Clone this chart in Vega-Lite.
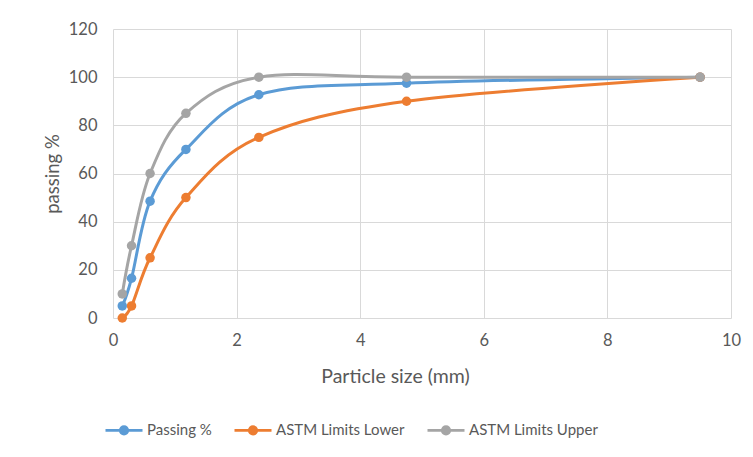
{
  "$schema": "https://vega.github.io/schema/vega-lite/v6.json",
  "width": 618,
  "height": 289,
  "autosize": {"type": "none"},
  "padding": {"left": 113, "top": 29, "right": 22, "bottom": 139},
  "background": "#ffffff",
  "config": {
    "view": {"stroke": null},
    "font": "Lato",
    "axis": {
      "gridColor": "#d9d9d9",
      "gridWidth": 1,
      "domain": false,
      "ticks": false,
      "labelFlush": false,
      "labelColor": "#595959",
      "labelFont": "Lato",
      "labelFontSize": 16.5,
      "labelFontWeight": "normal",
      "titleColor": "#595959",
      "titleFont": "Lato",
      "titleFontSize": 18.5,
      "titleFontWeight": "normal"
    }
  },
  "data": {
    "values": [
      {"size": 0.15, "pct": 5, "series": "Passing %"},
      {"size": 0.3, "pct": 16.5, "series": "Passing %"},
      {"size": 0.6, "pct": 48.5, "series": "Passing %"},
      {"size": 1.18, "pct": 70, "series": "Passing %"},
      {"size": 2.36, "pct": 92.7, "series": "Passing %"},
      {"size": 4.75, "pct": 97.5, "series": "Passing %"},
      {"size": 9.5, "pct": 100, "series": "Passing %"},
      {"size": 0.15, "pct": 0, "series": "ASTM Limits Lower"},
      {"size": 0.3, "pct": 5, "series": "ASTM Limits Lower"},
      {"size": 0.6, "pct": 25, "series": "ASTM Limits Lower"},
      {"size": 1.18, "pct": 50, "series": "ASTM Limits Lower"},
      {"size": 2.36, "pct": 75, "series": "ASTM Limits Lower"},
      {"size": 4.75, "pct": 90, "series": "ASTM Limits Lower"},
      {"size": 9.5, "pct": 100, "series": "ASTM Limits Lower"},
      {"size": 0.15, "pct": 10, "series": "ASTM Limits Upper"},
      {"size": 0.3, "pct": 30, "series": "ASTM Limits Upper"},
      {"size": 0.6, "pct": 60, "series": "ASTM Limits Upper"},
      {"size": 1.18, "pct": 85, "series": "ASTM Limits Upper"},
      {"size": 2.36, "pct": 100, "series": "ASTM Limits Upper"},
      {"size": 4.75, "pct": 100, "series": "ASTM Limits Upper"},
      {"size": 9.5, "pct": 100, "series": "ASTM Limits Upper"}
    ]
  },
  "encoding": {
    "x": {
      "field": "size",
      "type": "quantitative",
      "scale": {"domain": [0, 10], "nice": false, "zero": false},
      "axis": {
        "values": [0, 2, 4, 6, 8, 10],
        "title": "Particle size (mm)",
        "labelPadding": 14,
        "titleFontSize": 19.5,
        "titleX": 282,
        "titleY": 64,
        "titleBaseline": "alphabetic",
        "titleAnchor": null,
        "titleAlign": "center"
      }
    },
    "y": {
      "field": "pct",
      "type": "quantitative",
      "scale": {"domain": [0, 120], "nice": false},
      "axis": {
        "values": [0, 20, 40, 60, 80, 100, 120],
        "title": "passing %",
        "labelPadding": 16,
        "titleX": -61,
        "titleY": 144.5,
        "titleBaseline": "middle",
        "titleAlign": "center",
        "titleAngle": -90
      }
    },
    "color": {
      "field": "series",
      "type": "nominal",
      "sort": ["Passing %", "ASTM Limits Lower", "ASTM Limits Upper"],
      "scale": {
        "domain": ["Passing %", "ASTM Limits Lower", "ASTM Limits Upper"],
        "range": ["#5b9bd5", "#ed7d31", "#a5a5a5"]
      },
      "legend": {
        "title": null,
        "orient": "none",
        "direction": "horizontal",
        "legendX": -9,
        "legendY": 381,
        "symbolType": "M-1,0H1M-0.2,0A0.2,0.2,0,1,1,0.2,0A0.2,0.2,0,1,1,-0.2,0",
        "symbolSize": 1369,
        "symbolStrokeWidth": 2.75,
        "symbolOpacity": 1,
        "labelFont": "Lato",
        "labelFontSize": 15,
        "labelColor": "#595959",
        "labelOffset": 3,
        "columnPadding": 17
      }
    }
  },
  "layer": [
    {
      "mark": {"type": "line", "interpolate": "cardinal", "strokeWidth": 3},
      "encoding": {"detail": {"field": "series"}}
    },
    {
      "mark": {"type": "point", "filled": true, "size": 90, "opacity": 1}
    }
  ]
}
